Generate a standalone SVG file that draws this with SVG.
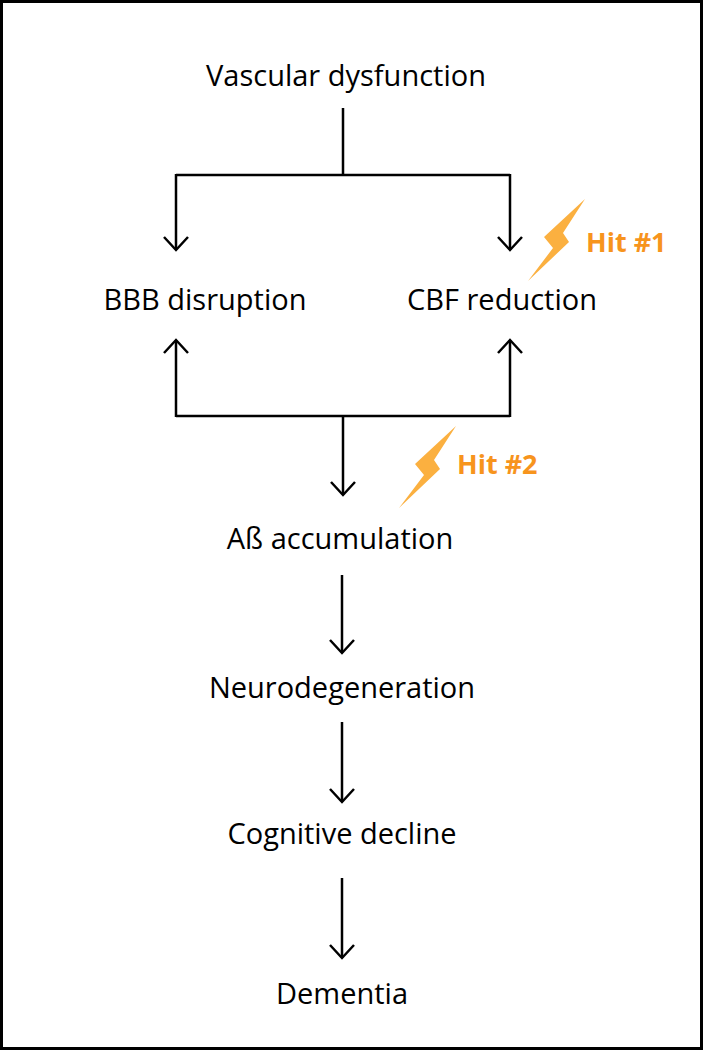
<svg xmlns="http://www.w3.org/2000/svg" width="703" height="1050" viewBox="0 0 703 1050">
<defs>
<style>
.t{font-family:"Open Sans","Liberation Sans",sans-serif;font-size:29px;fill:#000;text-anchor:middle}
.h{font-family:"Open Sans","Liberation Sans",sans-serif;font-size:27px;font-weight:bold;fill:#f7941d}
.c{fill:none;stroke:#000;stroke-width:2.5}
</style>
<marker id="a" viewBox="0 0 16 26" refX="14" refY="13" markerWidth="16" markerHeight="26" markerUnits="userSpaceOnUse" orient="auto"><path d="M1 1 L14 13 L1 25" fill="none" stroke="#000" stroke-width="2.5"/></marker>
<polygon id="bolt" points="585,199 563,233 569,242 528,281 553,248 544,237" fill="#fbb040"/>
</defs>
<rect x="1.5" y="1.5" width="700" height="1047" fill="#fff" stroke="#000" stroke-width="3"/>
<g id="connectors">
<path class="c" d="M343 108 V175 M176 175 H510"/>
<path class="c" d="M176 174 V250" marker-end="url(#a)"/>
<path class="c" d="M510 174 V250" marker-end="url(#a)"/>
<path class="c" d="M176 416 H510"/>
<path class="c" d="M176 417 V340" marker-end="url(#a)"/>
<path class="c" d="M510 417 V340" marker-end="url(#a)"/>
<path class="c" d="M343 415 V495" marker-end="url(#a)"/>
<path class="c" d="M342 575 V653" marker-end="url(#a)"/>
<path class="c" d="M342 722 V802" marker-end="url(#a)"/>
<path class="c" d="M342 878 V958" marker-end="url(#a)"/>
</g>
<g id="n1"><text class="t" x="346" y="86">Vascular dysfunction</text></g>
<g id="n2"><text class="t" x="205" y="310">BBB disruption</text></g>
<g id="n3"><text class="t" x="502" y="310">CBF reduction</text></g>
<g id="n4"><text class="t" x="340" y="549">Aß accumulation</text></g>
<g id="n5"><text class="t" x="342" y="698">Neurodegeneration</text></g>
<g id="n6"><text class="t" x="342" y="844">Cognitive decline</text></g>
<g id="n7"><text class="t" x="342" y="1004">Dementia</text></g>
<g id="hit1"><use href="#bolt"/><text class="h" x="586" y="252">Hit #1</text></g>
<g id="hit2"><use href="#bolt" transform="translate(-129,227)"/><text class="h" x="457" y="474">Hit #2</text></g>
</svg>
